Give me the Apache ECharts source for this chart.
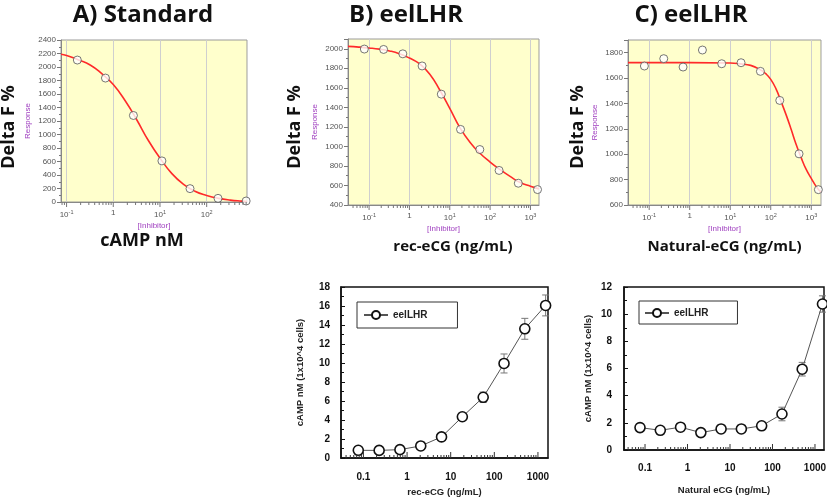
<!DOCTYPE html>
<html><head><meta charset="utf-8">
<script src="https://cdn.jsdelivr.net/npm/echarts@6/dist/echarts.min.js"></script>
<style>html,body{margin:0;padding:0;background:#fff}#c{width:827px;height:499px}</style>
</head><body><div id="c"></div>
<script>
// ---------- data ----------
const concA = [0.17, 0.68, 2.7, 11, 44, 175, 700];
const respA = [2103, 1836, 1282, 609, 198, 54, 15];
const fitAx = [0.076, 0.1, 0.18, 0.32, 0.56, 1, 1.8, 3.2, 5.6, 10, 18, 32, 56, 100, 180, 320, 560, 730];
const fitAy = [2190, 2172, 2105, 2030, 1905, 1740, 1500, 1215, 915, 650, 420, 262, 160, 97, 54, 28, 13, 8];

const concEcg = [0.0762, 0.229, 0.686, 2.06, 6.17, 18.5, 55.6, 167, 500, 1500];
const respB = [1997, 1993, 1948, 1824, 1535, 1174, 968, 754, 623, 558];
const fitBx = [0.03, 0.056, 0.1, 0.18, 0.32, 0.56, 1, 1.8, 3.2, 5.6, 10, 18, 32, 56, 100, 180, 320, 560, 1000, 1630];
const fitBy = [2024, 2017, 2008, 1996, 1978, 1950, 1905, 1845, 1740, 1580, 1390, 1190, 1040, 930, 840, 760, 690, 630, 592, 565];

const respC = [1695, 1753, 1687, 1821, 1713, 1721, 1653, 1424, 1003, 721];
const fitCx = [0.03, 1, 10, 18, 32, 56, 75, 100, 135, 180, 240, 320, 420, 560, 750, 1000, 1330, 1740];
const fitCy = [1722, 1722, 1719, 1712, 1700, 1665, 1635, 1590, 1515, 1415, 1310, 1195, 1080, 975, 880, 810, 745, 700];

const campB = [0.81, 0.8, 0.88, 1.27, 2.22, 4.34, 6.39, 9.95, 13.6, 16.06];
const errB  = [0.1, 0.1, 0.1, 0.15, 0.2, 0.3, 0.55, 1.0, 1.1, 1.1];
const campC = [1.65, 1.45, 1.68, 1.28, 1.55, 1.55, 1.78, 2.65, 5.95, 10.75];
const errC  = [0.1, 0.1, 0.1, 0.1, 0.1, 0.1, 0.25, 0.5, 0.5, 0.6];

const seriesName = 'eelLHR';
const panelTitles = ['A) Standard', 'B) eelLHR', 'C) eelLHR'];
const topXTitles = ['cAMP nM', 'rec-eCG (ng/mL)', 'Natural-eCG (ng/mL)'];
const topYTitle = 'Delta F %';
const botXTitles = ['rec-eCG (ng/mL)', 'Natural eCG (ng/mL)'];
const botYTitle = 'cAMP nM (1x10^4 cells)';

// ---------- helpers ----------
const zip = (xs, ys) => xs.map((x, i) => [x, ys[i]]);
const PURPLE = '#A040C0';
const SANS = '"Liberation Sans", Arial, sans-serif';
const TITLEF = '"Open Sans", "Noto Sans", sans-serif';

function minorVals(min, max) {
  const out = [];
  for (let e = -3; e <= 4; e++) for (let d = 1; d <= 9; d++) {
    const v = d * Math.pow(10, e);
    if (v > min * 1.001 && v < max * 0.999) out.push(v);
  }
  return out;
}
function tickSeries(idx, xmin, xmax, ybase, dir, minorLen, majorLen, color) {
  return {
    type: 'custom', xAxisIndex: idx, yAxisIndex: idx, silent: true, clip: false, z: 6,
    data: minorVals(xmin, xmax).map(v => [v, ybase]),
    encode: { x: 0, y: 1 },
    renderItem: (p, api) => {
      const v = api.value(0);
      const c = api.coord([v, api.value(1)]);
      const isMajor = Math.abs(Math.log10(v) - Math.round(Math.log10(v))) < 1e-6;
      const len = isMajor ? majorLen : minorLen;
      return { type: 'line', shape: { x1: c[0], y1: c[1], x2: c[0], y2: c[1] + dir * len },
               style: { stroke: color, lineWidth: 1 } };
    }
  };
}
function errSeries(idx, xs, ys, es) {
  return {
    type: 'custom', xAxisIndex: idx, yAxisIndex: idx, silent: true, clip: false, z: 2,
    data: xs.map((x, i) => [x, ys[i] - es[i], ys[i] + es[i]]),
    encode: { x: 0, y: [1, 2] },
    renderItem: (p, api) => {
      const a = api.coord([api.value(0), api.value(1)]);
      const b = api.coord([api.value(0), api.value(2)]);
      const st = { stroke: '#777', lineWidth: 1 };
      return { type: 'group', children: [
        { type: 'line', shape: { x1: a[0], y1: a[1], x2: b[0], y2: b[1] }, style: st },
        { type: 'line', shape: { x1: a[0] - 3.5, y1: a[1], x2: a[0] + 3.5, y2: a[1] }, style: st },
        { type: 'line', shape: { x1: b[0] - 3.5, y1: b[1], x2: b[0] + 3.5, y2: b[1] }, style: st }
      ]};
    }
  };
}

// ---------- layout ----------
const topGrids = [
  { left: 61, top: 40, width: 186, height: 162 },
  { left: 348, top: 39, width: 191, height: 166 },
  { left: 628, top: 40, width: 193, height: 165 }
];
const botGrids = [
  { left: 341, top: 287, width: 207, height: 171 },
  { left: 624, top: 287, width: 200, height: 163 }
];
const topX = [[0.076, 730], [0.03, 1630], [0.03, 1740]];
const topY = [[0, 2400], [400, 2100], [600, 1900]];
const botX = [[0.0306, 1700], [0.032, 1630]];
const botY = [[0, 18], [0, 12]];

const grid = [];
const xAxis = [];
const yAxis = [];
const series = [];

topGrids.forEach((g, i) => {
  grid.push(Object.assign({ show: true, backgroundColor: '#FFFFCC', borderColor: '#9a9a9a', borderWidth: 1,
    containLabel: false, outerBoundsMode: 'none' }, g));
  xAxis.push({
    type: 'log', logBase: 10, gridIndex: i, min: topX[i][0], max: topX[i][1],
    axisLine: { show: true, lineStyle: { color: '#888' } },
    axisTick: { show: false },
    splitLine: { show: true, lineStyle: { color: '#cfcfcf', width: 1 } },
    axisLabel: {
      showMinLabel: false, showMaxLabel: false, margin: 7, color: '#555', fontSize: 8, fontFamily: SANS,
      formatter: v => { const e = Math.round(Math.log10(v)); return e === 0 ? '{b|1}' : '{b|10}{s|' + e + '}'; },
      rich: { b: { fontSize: 8, color: '#555', fontFamily: SANS }, s: { fontSize: 5.5, color: '#555', verticalAlign: 'top', padding: [0, 0, 5, 0], fontFamily: SANS } }
    },
    name: '[Inhibitor]', nameLocation: 'middle', nameGap: 20,
    nameTextStyle: { color: PURPLE, fontSize: 8, fontFamily: SANS }
  });
  yAxis.push({
    type: 'value', gridIndex: i, min: topY[i][0], max: topY[i][1], interval: 200,
    axisLine: { show: true, lineStyle: { color: '#888' } },
    axisTick: { show: true, length: 4, lineStyle: { color: '#777' } },
    minorTick: { show: true, splitNumber: 2, length: 2, lineStyle: { color: '#777' } },
    splitLine: { show: false },
    axisLabel: { showMaxLabel: i === 0, color: '#555', fontSize: 8, margin: 5, fontFamily: SANS,
      formatter: v => String(v) },
    name: 'Response', nameLocation: 'middle', nameGap: 29,
    nameTextStyle: { color: PURPLE, fontSize: 8, fontFamily: SANS }
  });
  series.push(tickSeries(i, topX[i][0], topX[i][1], topY[i][0], 1, 3, 5, '#777'));
});

botGrids.forEach((g, j) => {
  const i = j + 3;
  grid.push(Object.assign({ show: true, backgroundColor: 'transparent', borderColor: '#111', borderWidth: 1.5,
    containLabel: false, outerBoundsMode: 'none' }, g));
  xAxis.push({
    type: 'log', logBase: 10, gridIndex: i, min: botX[j][0], max: botX[j][1],
    axisLine: { show: true, lineStyle: { color: '#111', width: 1.5 } },
    axisTick: { show: false },
    splitLine: { show: false },
    axisLabel: {
      showMinLabel: false, showMaxLabel: false, margin: j === 0 ? 14 : 13, color: '#111', fontSize: 10,
      fontWeight: 'bold', fontFamily: SANS,
      formatter: v => String(Number(v.toPrecision(3)))
    },
    name: botXTitles[j], nameLocation: 'middle', nameGap: j === 0 ? 29 : 35,
    nameTextStyle: { color: '#222', fontSize: 9.5, fontWeight: 'bold', fontFamily: SANS }
  });
  yAxis.push({
    type: 'value', gridIndex: i, min: botY[j][0], max: botY[j][1], interval: 2,
    axisLine: { show: true, lineStyle: { color: '#111', width: 1.5 } },
    axisTick: { show: true, inside: true, length: 4, lineStyle: { color: '#111' } },
    minorTick: { show: true, splitNumber: 2, length: 3, lineStyle: { color: '#111' } },
    splitLine: { show: false },
    axisLabel: { color: '#111', fontSize: 10, fontWeight: 'bold', margin: j === 0 ? 11 : 12, fontFamily: SANS },
    name: botYTitle, nameLocation: 'middle', nameGap: j === 0 ? 36 : 31,
    nameTextStyle: { color: '#222', fontSize: 9.5, fontWeight: 'bold', fontFamily: SANS }
  });
  series.push(tickSeries(i, botX[j][0], botX[j][1], botY[j][0], -1, 3, 6, '#333'));
});

// fitted curves + points (top)
const fits = [zip(fitAx, fitAy), zip(fitBx, fitBy), zip(fitCx, fitCy)];
const pts = [zip(concA, respA), zip(concEcg, respB), zip(concEcg, respC)];
for (let i = 0; i < 3; i++) {
  series.push({ type: 'line', xAxisIndex: i, yAxisIndex: i, data: fits[i], smooth: 0.5,
    showSymbol: false, silent: true, z: 3, lineStyle: { color: '#FF2A2A', width: 1.6 } });
  series.push({ type: 'scatter', xAxisIndex: i, yAxisIndex: i, data: pts[i], symbol: 'circle', symbolSize: 8,
    silent: true, z: 4, itemStyle: { color: '#fff', borderColor: '#555', borderWidth: 1 } });
}
// bottom panels
const botData = [[campB, errB], [campC, errC]];
botData.forEach(([ys, es], j) => {
  const i = j + 3;
  series.push(errSeries(i, concEcg, ys, es));
  series.push({ type: 'line', name: seriesName, xAxisIndex: i, yAxisIndex: i, data: zip(concEcg, ys),
    symbol: 'circle', symbolSize: 10, z: 5, silent: true,
    itemStyle: { color: '#fff', borderColor: '#111', borderWidth: 1.6 },
    lineStyle: { color: '#555', width: 1 } });
});

const legendBase = {
  data: [seriesName], orient: 'horizontal', selectedMode: false, itemWidth: 24, itemHeight: 10, itemGap: 6,
  borderColor: '#333', borderWidth: 1, backgroundColor: '#fff',
  textStyle: { fontSize: 10, fontWeight: 'bold', color: '#222', fontFamily: SANS }
};
const legend = [
  Object.assign({}, legendBase, { left: 357, top: 302, padding: [8, 30, 8, 6] }),
  Object.assign({}, legendBase, { left: 639, top: 301, padding: [7, 29, 6, 5] })
];

// texts
const graphic = [];
const tCx = [143, 406, 691];
panelTitles.forEach((t, i) => graphic.push({ type: 'text', x: tCx[i], y: 15, silent: true,
  style: { text: t, textAlign: 'center', textVerticalAlign: 'middle', fontSize: 24, fontWeight: 'bold', fontFamily: TITLEF, fill: '#111' } }));
const dCx = [9, 294.5, 578];
dCx.forEach(x => graphic.push({ type: 'text', x: x, y: 127, rotation: Math.PI / 2, silent: true,
  style: { text: topYTitle, textAlign: 'center', textVerticalAlign: 'middle', fontSize: 18, fontWeight: 'bold', fontFamily: TITLEF, fill: '#111' } }));
const xtPos = [[142, 241], [453, 247], [724.5, 247]];
const xtSize = [18, 15, 15];
topXTitles.forEach((t, i) => graphic.push({ type: 'text', x: xtPos[i][0], y: xtPos[i][1], silent: true,
  style: { text: t, textAlign: 'center', textVerticalAlign: 'middle', fontSize: xtSize[i], fontWeight: 'bold', fontFamily: TITLEF, fill: '#111' } }));

const chart = echarts.init(document.getElementById('c'), null, { renderer: 'canvas' });
chart.setOption({ animation: false, backgroundColor: '#fff', grid, xAxis, yAxis, series, legend, graphic });
</script></body></html>
